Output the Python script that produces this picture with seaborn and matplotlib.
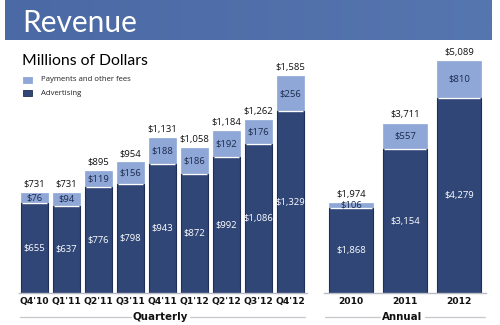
import matplotlib
matplotlib.use("Agg")
import matplotlib.pyplot as plt
from matplotlib.lines import Line2D
from matplotlib.patches import Rectangle
import seaborn as sns
import numpy as np

sns.set_theme(style="white")
plt.rcParams["font.family"] = ["DejaVu Sans"]

# Quarterly revenue (millions of dollars)
quarters = ["Q4'10", "Q1'11", "Q2'11", "Q3'11", "Q4'11", "Q1'12", "Q2'12", "Q3'12", "Q4'12"]
q_advertising = [655, 637, 776, 798, 943, 872, 992, 1086, 1329]
q_payments = [76, 94, 119, 156, 188, 186, 192, 176, 256]
q_total = [731, 731, 895, 954, 1131, 1058, 1184, 1262, 1585]

# Annual revenue (millions of dollars)
years = ["2010", "2011", "2012"]
y_advertising = [1868, 3154, 4279]
y_payments = [106, 557, 810]
y_total = [1974, 3711, 5089]

DARK = "#2f4677"
DARK_EDGE = "#1f2f58"
LIGHT = "#8ea7d6"
TEXT_DARK = "#1c2a4d"

W, H = 500, 325
fig = plt.figure(figsize=(W / 100, H / 100), dpi=100)
fig.patch.set_facecolor("white")


def frect(x0, y0_top, w, h):
    """Axes rect from pixel box measured from the top-left corner."""
    return [x0 / W, 1 - (y0_top + h) / H, w / W, h / H]


# Header band
hdr = fig.add_axes(frect(5, 0, 487, 40))
grad = np.linspace(0, 1, 256).reshape(1, -1)
hdr.imshow(grad, aspect="auto", extent=[0, 1, 0, 1],
           cmap=matplotlib.colors.LinearSegmentedColormap.from_list("h", ["#4b69a4", "#5676b0"]))
hdr.set_axis_off()
hdr.text(17 / 487, 0.43, "Revenue", color="white", fontsize=21.5,
         family=["Lato", "DejaVu Sans"], va="center", ha="left", transform=hdr.transAxes)

fig.text(22 / W, 1 - 61 / H, "Millions of Dollars", fontsize=11.3, color="black",
         family=["Lato", "DejaVu Sans"], va="center", ha="left")

# Legend
for yc, col, lab in [(79.5, LIGHT, "Payments and other fees"), (93.5, DARK, "Advertising")]:
    fig.patches.append(Rectangle((23 / W, 1 - (yc + 3) / H), 9 / W, 6 / H,
                                 transform=fig.transFigure, facecolor=col,
                                 edgecolor=DARK_EDGE if col == DARK else col, lw=0.6))
    fig.text(41 / W, 1 - yc / H, lab, fontsize=5.6, color="#222222",
             va="center", ha="left", family=["Open Sans", "DejaVu Sans"])


def draw_panel(ax, cats, adv, pay, tot, width, ymax):
    sns.barplot(x=cats, y=tot, ax=ax, color=LIGHT, saturation=1, width=width,
                edgecolor=LIGHT, linewidth=0.5)
    sns.barplot(x=cats, y=adv, ax=ax, color=DARK, saturation=1, width=width,
                edgecolor=DARK_EDGE, linewidth=0.8)
    ax.set_ylim(0, ymax)
    ax.set_xlim(-0.5, len(cats) - 0.5)
    ax.hlines(adv, np.arange(len(cats)) - width / 2 + 0.02,
              np.arange(len(cats)) + width / 2 - 0.02, color="white", lw=1.0)
    for i, (a, p, t) in enumerate(zip(adv, pay, tot)):
        ax.text(i, t + ymax * 0.018, f"${t:,}", ha="center", va="bottom",
                fontsize=6.8, color="#111111", family=["Open Sans", "DejaVu Sans"])
        ax.text(i, a + p / 2, f"${p:,}", ha="center", va="center",
                fontsize=6.8, color=TEXT_DARK, family=["Open Sans", "DejaVu Sans"])
        ax.text(i, a / 2, f"${a:,}", ha="center", va="center",
                fontsize=6.8, color="white", family=["Open Sans", "DejaVu Sans"])
    for s in ["top", "left", "right"]:
        ax.spines[s].set_visible(False)
    ax.spines["bottom"].set_color("#b8bcc4")
    ax.spines["bottom"].set_linewidth(1.0)
    ax.set_yticks([])
    ax.set_ylabel("")
    ax.set_xlabel("")
    ax.tick_params(axis="x", length=0, pad=3)
    for lbl in ax.get_xticklabels():
        lbl.set_fontweight("bold")
        lbl.set_fontsize(6.6)
        lbl.set_color("#111111")
    ax.patch.set_alpha(0)


axq = fig.add_axes(frect(18.5, 47, 288, 246))
draw_panel(axq, quarters, q_advertising, q_payments, q_total, 0.84, 1798)

axa = fig.add_axes(frect(324, 47, 162, 246))
draw_panel(axa, years, y_advertising, y_payments, y_total, 0.815, 5395)


def group_label(text, x0, x1, tx0, tx1, yc):
    for a, b in [(x0, tx0), (tx1, x1)]:
        fig.lines.append(Line2D([a / W, b / W], [1 - yc / H] * 2, transform=fig.transFigure,
                                color="#c4c7cc", lw=0.9))
    fig.text((tx0 + tx1) / 2 / W, 1 - yc / H, text, ha="center", va="center",
             fontsize=7.4, fontweight="bold", color="#111111")


group_label("Quarterly", 20, 305, 131, 190, 316.5)
group_label("Annual", 325, 485, 380, 425, 316.5)

fig.savefig("out.png", dpi=100)
